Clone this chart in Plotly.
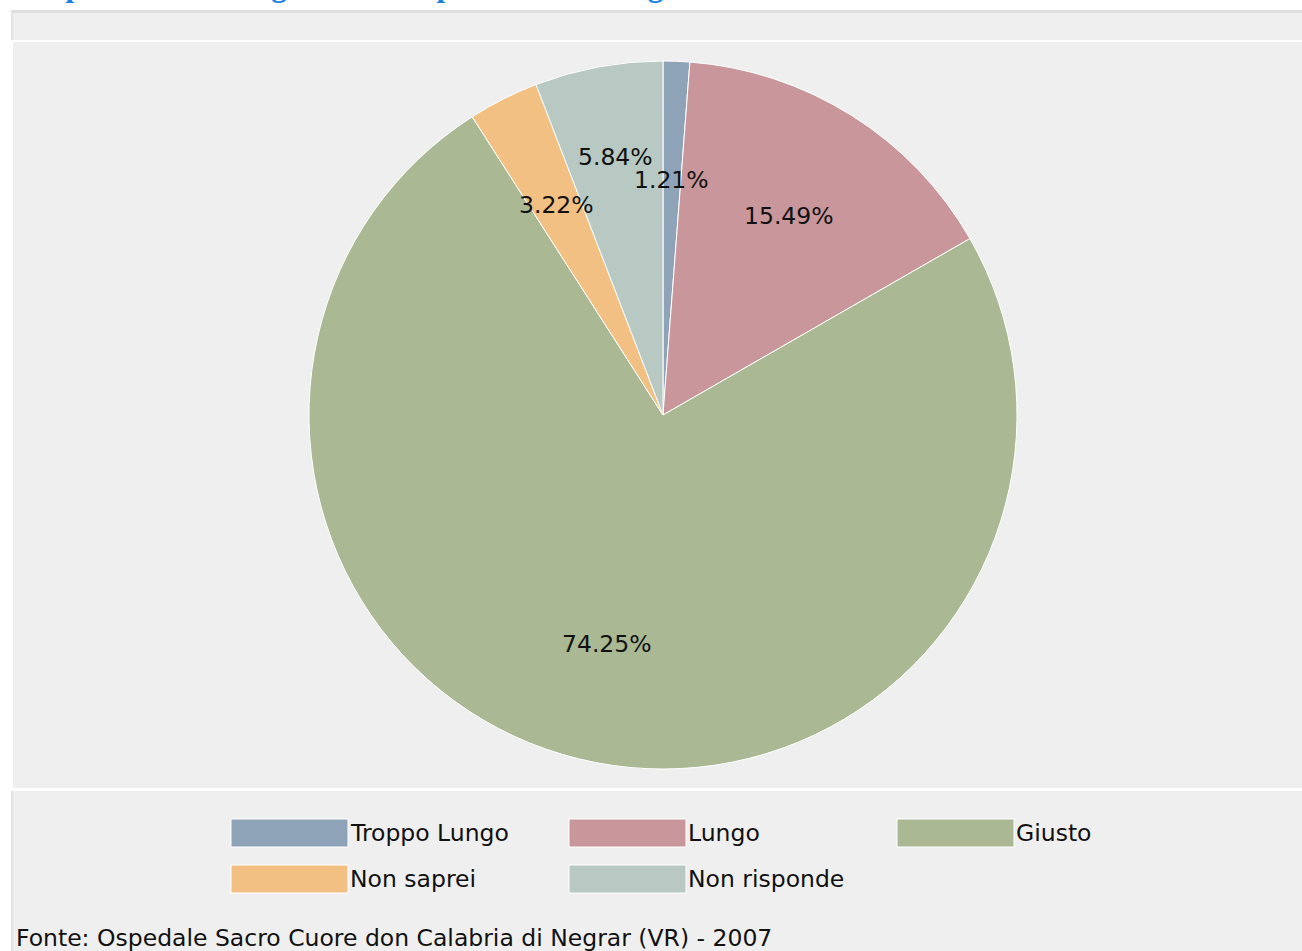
import math
import plotly.graph_objects as go

# ---- data ----
categories = ["Troppo Lungo", "Lungo", "Giusto", "Non saprei", "Non risponde"]
values = [1.21, 15.49, 74.25, 3.22, 5.84]
colors = ["#8fa3b8", "#c9979b", "#aab994", "#f2c082", "#b8c8c2"]
title_text = "Tempi trascorsi dal giorno della prenotazione al giorno dell'esecuzione dell'esame"
source_text = "Fonte: Ospedale Sacro Cuore don Calabria di Negrar (VR) - 2007"

# ---- layout constants (pixels) ----
W, H = 1302, 951
CX, CY, R = 663, 415, 354
label_radius = [0.665, 0.665, 0.665, 0.665, 0.74]
legend_cols = [231, 569, 897]
legend_rows = [833, 879]
sw_w, sw_h = 117, 28
FONT = "DejaVu Sans, Verdana, sans-serif"
FS = 23.5


def px(x):
    return x / W


def py(y):
    return 1 - y / H


fig = go.Figure()
fig.add_trace(go.Pie(
    labels=categories,
    values=values,
    sort=False,
    direction="clockwise",
    rotation=0,
    marker=dict(colors=colors, line=dict(color="white", width=1)),
    textinfo="none",
    hoverinfo="label+percent",
    showlegend=False,
    domain=dict(x=[px(CX - R), px(CX + R)], y=[py(CY + R), py(CY - R)]),
))

shapes = [
    # top band
    dict(type="rect", xref="paper", yref="paper", x0=px(11), x1=px(W), y0=py(40), y1=py(10),
         fillcolor="#efefef", line=dict(width=0), layer="below"),
    dict(type="rect", xref="paper", yref="paper", x0=px(11), x1=px(W), y0=py(13), y1=py(10),
         fillcolor="#dedede", line=dict(width=0), layer="below"),
    dict(type="rect", xref="paper", yref="paper", x0=px(11), x1=px(13), y0=py(40), y1=py(10),
         fillcolor="#e2e2e2", line=dict(width=0), layer="below"),
    # pie panel
    dict(type="rect", xref="paper", yref="paper", x0=px(13), x1=px(W), y0=py(788), y1=py(42),
         fillcolor="#efefef", line=dict(width=0), layer="below"),
    # legend / footer panel
    dict(type="rect", xref="paper", yref="paper", x0=px(11), x1=px(W), y0=0, y1=py(791),
         fillcolor="#efefef", line=dict(width=0), layer="below"),
    dict(type="rect", xref="paper", yref="paper", x0=px(11), x1=px(13), y0=0, y1=py(791),
         fillcolor="#e2e2e2", line=dict(width=0), layer="below"),
]

annotations = []

# slice percentage labels
total = sum(values)
cum = 0.0
for i, v in enumerate(values):
    mid = (cum + v / 2) / total * 2 * math.pi
    cum += v
    rr = R * label_radius[i]
    lx = CX + rr * math.sin(mid)
    ly = CY - rr * math.cos(mid)
    annotations.append(dict(
        x=px(lx), y=py(ly), xref="paper", yref="paper", showarrow=False,
        text=f"{v:.2f}%", font=dict(family=FONT, size=FS, color="#111111"),
        xanchor="center", yanchor="middle"))

# custom legend
for i, (cat, col) in enumerate(zip(categories, colors)):
    cx0 = legend_cols[i % 3]
    cy = legend_rows[i // 3]
    shapes.append(dict(type="rect", xref="paper", yref="paper",
                       x0=px(cx0), x1=px(cx0 + sw_w), y0=py(cy + sw_h / 2), y1=py(cy - sw_h / 2),
                       fillcolor=col, line=dict(color="#ffffff", width=1)))
    annotations.append(dict(
        x=px(cx0 + sw_w), y=py(cy), xref="paper", yref="paper", showarrow=False,
        text=cat, font=dict(family=FONT, size=FS, color="#111111"),
        xanchor="left", yanchor="middle"))

# source
annotations.append(dict(
    x=px(14), y=py(938), xref="paper", yref="paper", showarrow=False,
    text=source_text, font=dict(family=FONT, size=FS, color="#111111"),
    xanchor="left", yanchor="middle"))

# title (cut at the top edge, as in the reference)
annotations.append(dict(
    x=px(6), y=py(5), xref="paper", yref="paper", showarrow=False,
    text=f"<b>{title_text}</b>",
    font=dict(family="Liberation Serif, Times New Roman, serif", size=31, color="#1b7fe3"),
    xanchor="left", yanchor="bottom"))

fig.update_layout(
    width=W, height=H,
    margin=dict(l=0, r=0, t=0, b=0),
    paper_bgcolor="white",
    plot_bgcolor="white",
    shapes=shapes,
    annotations=annotations,
    showlegend=False,
)

fig.write_html("out.html", config={"displayModeBar": False},
               post_script="document.body.style.margin='0px';document.body.style.overflow='hidden';")
